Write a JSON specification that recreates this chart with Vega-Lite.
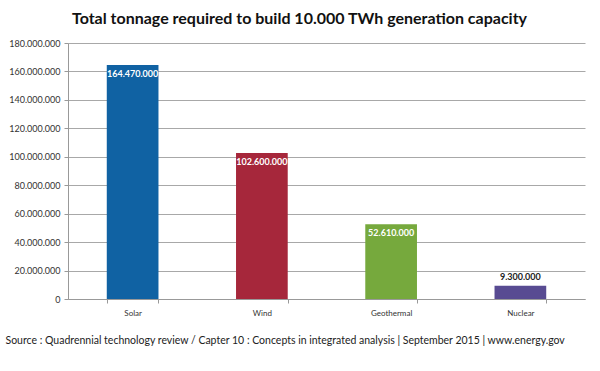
{
  "$schema": "https://vega.github.io/schema/vega-lite/v6.json",
  "width": 517,
  "height": 256,
  "autosize": {"type": "none"},
  "padding": {"left": 68, "top": 43, "right": 15, "bottom": 72},
  "background": "white",
  "title": {
    "text": "Total tonnage required to build 10.000 TWh generation capacity",
    "font": "Lato",
    "fontSize": 16,
    "fontWeight": "bold",
    "color": "#111111",
    "anchor": "middle",
    "dx": -27,
    "offset": 12
  },
  "config": {
    "locale": {"number": {"decimal": ",", "thousands": ".", "grouping": [3], "currency": ["", ""]}},
    "view": {"stroke": null},
    "font": "Lato"
  },
  "data": {
    "values": [
      {"source": "Solar", "tonnage": 164470000},
      {"source": "Wind", "tonnage": 102600000},
      {"source": "Geothermal", "tonnage": 52610000},
      {"source": "Nuclear", "tonnage": 9300000}
    ]
  },
  "encoding": {
    "x": {
      "field": "source",
      "type": "nominal",
      "sort": null,
      "scale": {"paddingInner": 0.6, "paddingOuter": 0.3},
      "axis": {
        "title": "Source : Quadrennial technology review / Capter 10 : Concepts in integrated analysis | September 2015 | www.energy.gov",
        "titleFont": "Lato",
        "titleFontSize": 10.5,
        "titleFontWeight": "normal",
        "titleColor": "#222222",
        "titleAlign": "left",
        "titleAnchor": "start",
        "titleX": -63,
        "titleY": 41,
        "titleBaseline": "middle",
        "labelAngle": 0,
        "labelFontSize": 8,
        "labelColor": "#333333",
        "labelPadding": 6,
        "tickBand": "extent",
        "tickSize": 4,
        "tickColor": "#999999",
        "domainColor": "#999999"
      }
    },
    "y": {
      "field": "tonnage",
      "type": "quantitative",
      "scale": {"domain": [0, 180000000]},
      "axis": {
        "title": null,
        "values": [0, 20000000, 40000000, 60000000, 80000000, 100000000, 120000000, 140000000, 160000000, 180000000],
        "format": ",d",
        "labelFontSize": 9,
        "labelColor": "#333333",
        "labelPadding": 4,
        "tickSize": 4,
        "tickColor": "#999999",
        "domainColor": "#999999",
        "gridColor": "#A8A8A8",
        "grid": true
      }
    }
  },
  "layer": [
    {
      "mark": {"type": "bar"},
      "encoding": {
        "color": {
          "field": "source",
          "type": "nominal",
          "scale": {
            "domain": ["Solar", "Wind", "Geothermal", "Nuclear"],
            "range": ["#1062A3", "#A6273B", "#76A93D", "#584B92"]
          },
          "legend": null
        }
      }
    },
    {
      "transform": [{"filter": "datum.tonnage > 20000000"}],
      "mark": {"type": "text", "baseline": "top", "dy": 5, "fontSize": 9, "fontWeight": "bold", "color": "white"},
      "encoding": {"text": {"field": "tonnage", "type": "quantitative", "format": ",d"}}
    },
    {
      "transform": [{"filter": "datum.tonnage <= 20000000"}],
      "mark": {"type": "text", "baseline": "bottom", "dy": -4, "fontSize": 9, "fontWeight": "bold", "color": "#222222"},
      "encoding": {"text": {"field": "tonnage", "type": "quantitative", "format": ",d"}}
    }
  ]
}
